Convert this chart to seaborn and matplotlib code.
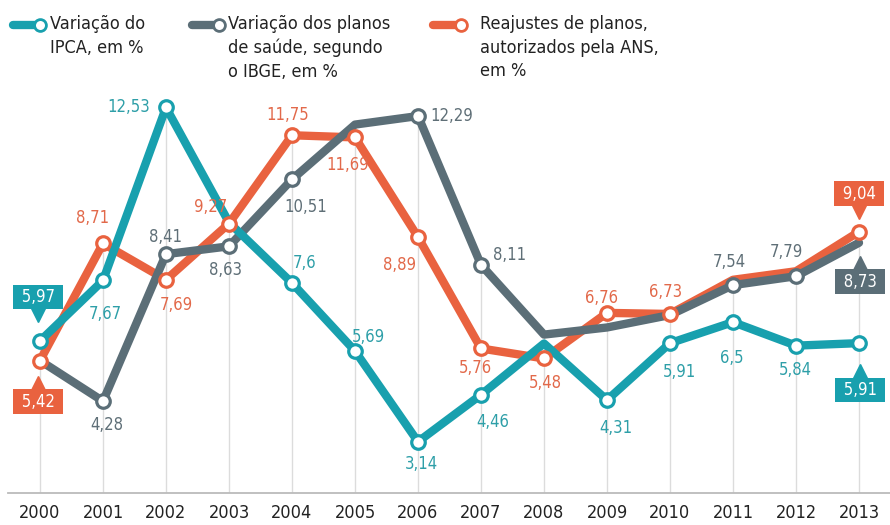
import numpy as np
import pandas as pd
import matplotlib as mpl
mpl.use('Agg')
import matplotlib.pyplot as plt
import matplotlib.lines as mlines
import matplotlib.transforms as mtransforms
import seaborn as sns

# dados
anos = list(range(2000, 2014))
ipca = [5.97, 7.67, 12.53, 9.30, 7.60, 5.69, 3.14, 4.46, 5.90, 4.31, 5.91, 6.50, 5.84, 5.91]
planos_ibge = [5.42, 4.28, 8.41, 8.63, 10.51, 12.05, 12.29, 8.11, 6.15, 6.35, 6.70, 7.54, 7.79, 8.73]
reajuste_ans = [5.42, 8.71, 7.69, 9.27, 11.75, 11.69, 8.89, 5.76, 5.48, 6.76, 6.73, 7.69, 7.93, 9.04]

nomes = ['Variação do\nIPCA, em %',
         'Variação dos planos\nde saúde, segundo\no IBGE, em %',
         'Reajustes de planos,\nautorizados pela ANS,\nem %']

W, H = 890, 525
C_IPCA, C_IBGE, C_ANS = '#18a0ae', '#5b6e77', '#e9623f'
T_IPCA, T_IBGE, T_ANS = '#2e9fa8', '#5f6f77', '#e2694a'

# pontos com marcador (indices)
mark_ipca = [0, 1, 2, 4, 5, 6, 7, 9, 10, 11, 12, 13]
mark_ibge = [1, 2, 3, 4, 6, 7, 11, 12]
mark_ans = [0, 1, 2, 3, 4, 5, 6, 7, 8, 9, 10, 13]

# rotulos simples: indice -> (dx, dy para baixo, ha) em pixels
lab_ipca = {1: (2, 34, 'center'), 2: (-16, 0, 'right'), 4: (13, -20, 'center'),
            5: (13, -14, 'center'), 6: (3, 22, 'center'), 7: (12, 27, 'center'),
            9: (9, 28, 'center'), 10: (9, 29, 'center'), 11: (-1, 36, 'center'),
            12: (-1, 24, 'center')}
lab_ibge = {1: (4, 24, 'center'), 2: (-1, -17, 'center'), 3: (-3, 24, 'center'),
            4: (14, 28, 'center'), 6: (12, 0, 'left'), 7: (12, -10, 'left'),
            11: (-4, -23, 'center'), 12: (-10, -24, 'center')}
lab_ans = {1: (-10, -25, 'center'), 2: (10, 25, 'center'), 3: (-18, -17, 'center'),
           4: (-4, -20, 'center'), 5: (-7, 28, 'center'), 6: (-19, 28, 'center'),
           7: (-6, 20, 'center'), 8: (1, 25, 'center'), 9: (-5, -15, 'center'),
           10: (-4, -22, 'center')}
# rotulos em caixa: indice -> (dx, dy caixa, dy triangulo)
box_ipca = {0: (-2, -44, -26), 13: (1, 47, 28)}
box_ibge = {13: (1, 39, 20)}
box_ans = {0: (-2, 41, 22), 13: (0, -38, -20)}


def fmt(v):
    return ('%.2f' % v).rstrip('0').rstrip('.').replace('.', ',')


def main():
    sns.set_theme(style='white')
    plt.rcParams['font.family'] = ['DejaVu Sans']
    plt.rcParams['font.stretch'] = 'condensed'

    fig = plt.figure(figsize=(W / 100, H / 100), dpi=100)
    ax = fig.add_axes([0, 1 - 493 / H, 1, 493 / H])

    df = pd.DataFrame({
        'ano': anos * 3,
        'valor': reajuste_ans + planos_ibge + ipca,
        'serie': ['ans'] * len(anos) + ['ibge'] * len(anos) + ['ipca'] * len(anos),
    })
    sns.lineplot(data=df, x='ano', y='valor', hue='serie',
                 hue_order=['ans', 'ibge', 'ipca'],
                 palette={'ans': C_ANS, 'ibge': C_IBGE, 'ipca': C_IPCA},
                 linewidth=6, legend=False, ax=ax, zorder=3)
    for line in ax.lines:
        line.set_solid_joinstyle('round')
        line.set_solid_capstyle('round')

    ymin, ymax = 1.70, 15.55
    ax.set_ylim(ymin, ymax)
    ax.set_xlim(2000 - 40 / 63, 2000 + 850 / 63)

    tops = np.max([ipca, planos_ibge, reajuste_ans], axis=0)
    ax.vlines(anos, ymin, tops, color='#dcdcdc', lw=1, zorder=0)

    series = [
        (reajuste_ans, C_ANS, T_ANS, mark_ans, lab_ans, box_ans),
        (planos_ibge, C_IBGE, T_IBGE, mark_ibge, lab_ibge, box_ibge),
        (ipca, C_IPCA, T_IPCA, mark_ipca, lab_ipca, box_ipca),
    ]
    for vals, c, tc, marks, labs, boxes in series:
        ax.scatter([anos[i] for i in marks], [vals[i] for i in marks],
                   s=95, facecolor='white', edgecolor=c, linewidth=2.3, zorder=6)
        for i, (dx, dy, ha) in labs.items():
            ax.annotate(fmt(vals[i]), (anos[i], vals[i]), xytext=(dx, -dy),
                        textcoords='offset pixels', ha=ha, va='center',
                        fontsize=12, color=tc, zorder=7)
        for i, (dx, dyb, dyt) in boxes.items():
            ax.annotate(' ' + fmt(vals[i]) + ' ', (anos[i], vals[i]), xytext=(dx, -dyb),
                        textcoords='offset pixels', ha='center', va='center',
                        fontsize=12, color='white', zorder=8,
                        bbox=dict(boxstyle='square,pad=0.2', fc=c, ec='none'))
            tr = mtransforms.offset_copy(ax.transData, fig=fig, x=dx, y=-dyt, units='dots')
            ax.plot([anos[i]], [vals[i]], marker='v' if dyt < 0 else '^', ms=10,
                    color=c, ls='none', transform=tr, zorder=8)

    ax.set_xticks(anos)
    ax.set_xticklabels([str(a) for a in anos])
    ax.tick_params(axis='x', length=0, pad=8, labelsize=13, labelcolor='#222222')
    ax.set_yticks([])
    ax.set_xlabel('')
    ax.set_ylabel('')
    for s in ['top', 'right', 'left']:
        ax.spines[s].set_visible(False)
    ax.spines['bottom'].set_color('#bbbbbb')
    ax.spines['bottom'].set_linewidth(1.3)
    ax.spines['bottom'].set_bounds(2000 - 32 / 63, 2000 + 850 / 63)

    # legenda manual no topo
    leg = [(13, 40, 50, C_IPCA, nomes[0]),
           (192, 219, 228, C_IBGE, nomes[1]),
           (433, 461, 480, C_ANS, nomes[2])]
    ly = 1 - 25 / H
    for x0, x1, xt, c, txt in leg:
        fig.add_artist(mlines.Line2D([x0 / W, x1 / W], [ly, ly], transform=fig.transFigure,
                                     lw=6, color=c, solid_capstyle='round'))
        fig.add_artist(mlines.Line2D([x1 / W], [ly], transform=fig.transFigure,
                                     marker='o', ms=8.5, mfc='white', mec=c, mew=2))
        fig.text(xt / W, 1 - 15 / H, txt, ha='left', va='top', fontsize=13,
                 color='#222222', linespacing=1.4)

    plt.savefig('out.png', dpi=100)


if __name__ == '__main__':
    main()
